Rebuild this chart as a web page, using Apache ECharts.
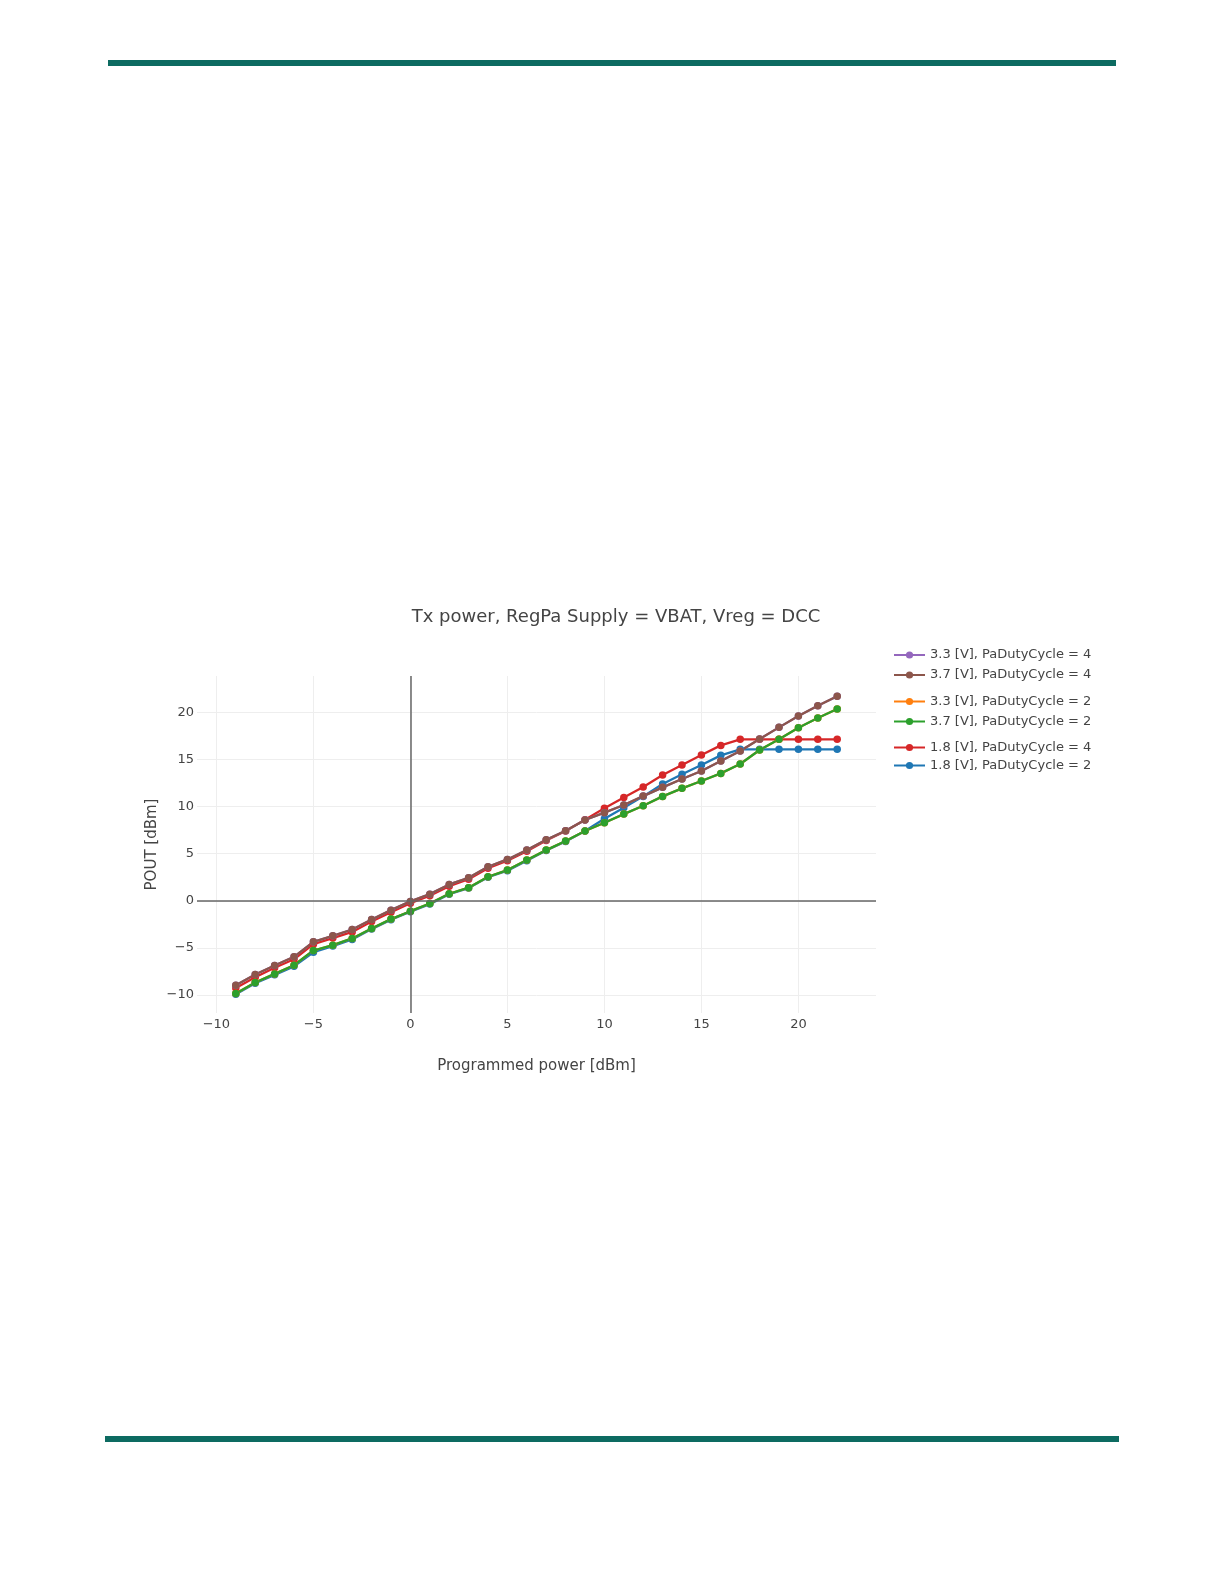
<!DOCTYPE html>
<html>
<head>
<meta charset="utf-8">
<script src="https://cdn.jsdelivr.net/npm/echarts@6/dist/echarts.min.js"></script>
<style>
html,body{margin:0;padding:0;background:#fff;}
#page{position:relative;width:1224px;height:1584px;overflow:hidden;}
#chart{position:absolute;left:0;top:0;width:1224px;height:1584px;}
.bar{position:absolute;background:#0d6b61;}
</style>
</head>
<body>
<div id="page">
<div class="bar" style="left:108px;top:60px;width:1008px;height:6px;"></div>
<div class="bar" style="left:105px;top:1436px;width:1014px;height:6px;"></div>
<div id="chart"></div>
</div>
<script>
const xValues = [-9,-8,-7,-6,-5,-4,-3,-2,-1,0,1,2,3,4,5,6,7,8,9,10,11,12,13,14,15,16,17,18,19,20,21,22];
const v33pd4 = [-8.95,-7.82,-6.86,-5.94,-4.35,-3.71,-3.04,-1.98,-0.99,-0.06,0.71,1.74,2.44,3.61,4.39,5.38,6.48,7.43,8.57,9.35,10.16,11.11,12.04,12.92,13.77,14.83,15.89,17.17,18.40,19.61,20.70,21.70];
const v37pd4 = [-8.95,-7.82,-6.86,-5.94,-4.35,-3.71,-3.04,-1.98,-0.99,-0.06,0.71,1.74,2.44,3.61,4.39,5.38,6.48,7.43,8.57,9.35,10.16,11.11,12.04,12.92,13.77,14.83,15.89,17.17,18.40,19.61,20.70,21.70];
const v33pd2 = [-9.83,-8.67,-7.75,-6.83,-5.27,-4.70,-3.99,-2.93,-1.94,-1.10,-0.28,0.75,1.39,2.55,3.26,4.32,5.38,6.34,7.40,8.28,9.20,10.09,11.08,11.93,12.71,13.52,14.51,16.00,17.13,18.37,19.39,20.35];
const v37pd2 = [-9.83,-8.67,-7.75,-6.83,-5.27,-4.70,-3.99,-2.93,-1.94,-1.10,-0.28,0.75,1.39,2.55,3.26,4.32,5.38,6.34,7.40,8.28,9.20,10.09,11.08,11.93,12.71,13.52,14.51,16.00,17.13,18.37,19.39,20.35];
const v18pd4 = [-9.25,-8.10,-7.10,-6.20,-4.60,-3.95,-3.30,-2.20,-1.20,-0.25,0.55,1.55,2.30,3.45,4.25,5.25,6.40,7.40,8.60,9.81,10.97,12.07,13.34,14.41,15.47,16.49,17.13,17.13,17.13,17.13,17.13,17.13];
const v18pd2 = [-9.90,-8.75,-7.85,-6.95,-5.45,-4.80,-4.10,-3.00,-2.00,-1.15,-0.35,0.70,1.35,2.50,3.20,4.25,5.35,6.30,7.40,8.70,9.88,11.08,12.39,13.42,14.41,15.43,16.07,16.07,16.07,16.07,16.07,16.07];

const names = {
  p4_33: '3.3 [V], PaDutyCycle = 4',
  p4_37: '3.7 [V], PaDutyCycle = 4',
  p2_33: '3.3 [V], PaDutyCycle = 2',
  p2_37: '3.7 [V], PaDutyCycle = 2',
  p4_18: '1.8 [V], PaDutyCycle = 4',
  p2_18: '1.8 [V], PaDutyCycle = 2'
};
const FONT = 'DejaVu Sans, Verdana, sans-serif';
function pairs(ys){ return xValues.map((x,i)=>[x, ys[i]]); }
function mk(name, ys, color){
  return {
    name: name, type: 'line', data: pairs(ys),
    symbol: 'circle', symbolSize: 7.5, showSymbol: true,
    lineStyle: {width: 2.3, color: color},
    itemStyle: {color: color},
    emphasis: {disabled: true}, animation: false
  };
}
const minus = v => String(v).replace('-', '\u2212');
const legendBase = {
  orient: 'vertical', left: 888, itemWidth: 31, itemHeight: 9, itemGap: 7,
  textStyle: {fontFamily: FONT, fontSize: 13, color: '#444'},
  selectedMode: false
};
const chart = echarts.init(document.getElementById('chart'), null, {renderer: 'canvas'});
chart.setOption({
  animation: false,
  backgroundColor: 'transparent',
  title: {
    text: 'Tx power, RegPa Supply = VBAT, Vreg = DCC',
    left: 611, top: 603, textAlign: 'center',
    textStyle: {fontFamily: FONT, fontSize: 18, fontWeight: 'normal', color: '#444'}
  },
  legend: [
    Object.assign({}, legendBase, {top: 643.5, data: [names.p4_33, names.p4_37]}),
    Object.assign({}, legendBase, {top: 690, data: [names.p2_33, names.p2_37]}),
    Object.assign({}, legendBase, {top: 736, itemGap: 5, data: [names.p4_18, names.p2_18]})
  ],
  grid: {left: 197, right: 348, top: 676, bottom: 571, containLabel: false},
  xAxis: {
    type: 'value', min: -11, max: 24, splitNumber: 7,
    name: 'Programmed power [dBm]', nameLocation: 'middle', nameGap: 46, nameMoveOverlap: false,
    nameTextStyle: {fontFamily: FONT, fontSize: 15, color: '#444'},
    axisLine: {show: false}, axisTick: {show: false},
    axisLabel: {fontFamily: FONT, fontSize: 13, color: '#444', margin: 5, showMinLabel: false, showMaxLabel: false, formatter: minus},
    splitLine: {show: true, showMinLine: false, showMaxLine: false, lineStyle: {color: '#eeeeee', width: 1}}
  },
  yAxis: {
    type: 'value', min: -11.9, max: 23.85, splitNumber: 7,
    name: 'POUT [dBm]', nameLocation: 'middle', nameGap: 37, nameMoveOverlap: false,
    nameTextStyle: {fontFamily: FONT, fontSize: 15, color: '#444'},
    axisLine: {show: false}, axisTick: {show: false},
    axisLabel: {fontFamily: FONT, fontSize: 13, color: '#444', margin: 3, showMinLabel: false, showMaxLabel: false, formatter: minus},
    splitLine: {show: true, showMinLine: false, showMaxLine: false, lineStyle: {color: '#eeeeee', width: 1}}
  },
  series: [
    {
      name: 'zero', type: 'line', data: [], z: 1, silent: true,
      markLine: {
        silent: true, symbol: 'none', animation: false,
        label: {show: false},
        lineStyle: {color: '#666', width: 1.5, type: 'solid'},
        emphasis: {disabled: true},
        data: [{xAxis: 0}, {yAxis: 0}]
      }
    },
    mk(names.p4_18, v18pd4, '#d62728'),
    mk(names.p2_18, v18pd2, '#1f77b4'),
    mk(names.p4_33, v33pd4, '#9467bd'),
    mk(names.p4_37, v37pd4, '#8c564b'),
    mk(names.p2_33, v33pd2, '#ff7f0e'),
    mk(names.p2_37, v37pd2, '#2ca02c')
  ]
});
</script>
</body>
</html>
